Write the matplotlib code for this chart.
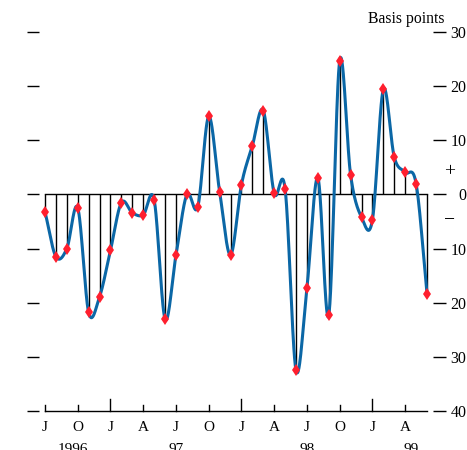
import numpy as np
import matplotlib
matplotlib.use("Agg")
import matplotlib.pyplot as plt

plt.rcParams["font.family"] = ["Liberation Serif", "DejaVu Serif"]

BLUE = "#0b67a6"
RED = "#ff1f2e"
STEM = "#000000"

# monthly values, Jul 1996 .. Jun 1999 (basis points)
values = [
    -3.2, -11.5, -10.0, -2.5, -21.8, -18.9,                 # 1996 Jul-Dec
    -10.3, -1.5, -3.4, -3.8, -1.0, -23.0,                   # 1997 Jan-Jun
    -11.2, 0.0, -2.3, 14.4, 0.5, -11.2,                     # 1997 Jul-Dec
    1.8, 9.0, 15.5, 0.2, 1.0, -32.5,                        # 1998 Jan-Jun
    -17.2, 3.1, -22.3, 24.7, 3.6, -4.2,                     # 1998 Jul-Dec
    -4.7, 19.4, 6.9, 4.1, 2.0, -18.3,                       # 1999 Jan-Jun
]
month_labels = ["J", "O", "J", "A", "J", "O", "J", "A", "J", "O", "J", "A"]
year_labels = ["1996", "97", "98", "99"]
year_pos = [2.6, 12.0, 24.0, 33.5]
ytick_vals = [30, 20, 10, 0, -10, -20, -30, -40]
ytick_text = ["30", "20", "10", "0", "10", "20", "30", "40"]


def catmull_rom(y, per_seg=30):
    # smooth curve through the points (cardinal spline, hermite segments)
    y = np.asarray(y, float)
    n = len(y)
    m = np.zeros(n)
    m[1:-1] = (y[2:] - y[:-2]) / 2
    m[0] = y[1] - y[0]
    m[-1] = y[-1] - y[-2]
    t = np.linspace(0, 1, per_seg, endpoint=False)
    h00 = 2 * t**3 - 3 * t**2 + 1
    h10 = t**3 - 2 * t**2 + t
    h01 = -2 * t**3 + 3 * t**2
    h11 = t**3 - t**2
    xs, ys = [], []
    for i in range(n - 1):
        xs.append(i + t)
        ys.append(h00 * y[i] + h10 * m[i] + h01 * y[i + 1] + h11 * m[i + 1])
    xs.append([n - 1])
    ys.append([y[-1]])
    return np.concatenate(xs), np.concatenate(ys)


x = np.arange(len(values))
xs, ys = catmull_rom(values)

fig = plt.figure(figsize=(4.67, 4.5), dpi=100)
ax = fig.add_axes([39 / 467, 1 - 411 / 450, (433 - 39) / 467, (411 - 32) / 450])
ax.set_xlim(-0.55, 35.55)
ax.set_ylim(-40, 30)
for s in ax.spines.values():
    s.set_visible(False)

# stems and zero line
ax.vlines(x, 0, values, color=STEM, linewidth=1.0, zorder=1)
ax.plot([0, len(values) - 1], [0, 0], color=STEM, linewidth=1.0, zorder=1)

ax.plot(xs, ys, color=BLUE, linewidth=2.2, zorder=2)
ax.plot(x, values, linestyle="none", marker="d", markersize=6.5,
        color=RED, markeredgewidth=0, zorder=3)

# bottom time axis
ax.plot([0, len(values) - 1], [-40, -40], color="black", linewidth=1.0, clip_on=False)
qt = np.arange(0, len(values), 3)
for i, q in enumerate(qt):
    tall = (q % 12) == 6
    ax.plot([q, q], [-40, -40 + (2.3 if tall else 1.15)], color="black",
            linewidth=1.0, clip_on=False)
    ax.text(q, -41.9, month_labels[i], ha="center", va="top", fontsize=11)
for p, lab in zip(year_pos, year_labels):
    ax.text(p, -46.0, lab, ha="center", va="top", fontsize=11)

# y ticks on both sides
ax.set_xticks([])
ax.set_yticks(ytick_vals)
ax.tick_params(axis="y", which="both", left=True, right=True, labelleft=False,
               labelright=True, direction="out", length=9, width=1.0,
               labelsize=11.5, pad=15)
ax.set_yticklabels(ytick_text)
for lbl in ax.get_yticklabels():
    lbl.set_horizontalalignment("right")

fig.text(449.5 / 467, 1 - 172 / 450, "+", ha="center", va="center", fontsize=14)
fig.text(449.5 / 467, 1 - 220 / 450, "\u2212", ha="center", va="center", fontsize=14)
fig.text(444 / 467, 1 - 19 / 450, "Basis points", ha="right", va="center", fontsize=11.3)

fig.savefig("out.png", dpi=100)
